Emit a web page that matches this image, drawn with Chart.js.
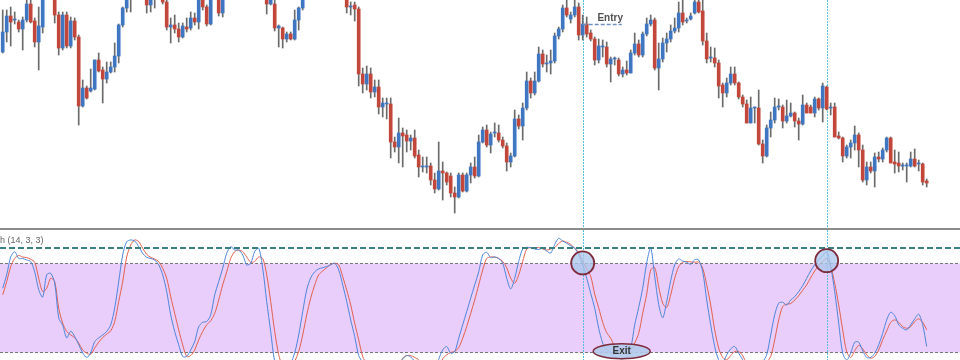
<!DOCTYPE html>
<html>
<head>
<meta charset="utf-8">
<script src="https://cdn.jsdelivr.net/npm/chart.js@4.4.1/dist/chart.umd.min.js"></script>
<style>
  html, body { margin: 0; padding: 0; background: #fff; }
  #wrap { width: 960px; height: 360px; overflow: hidden; }
  canvas { display: block; }
  #divider { height: 2px; background: #8c8c8c; }
</style>
</head>
<body>
<div id="wrap">
  <canvas id="price" width="960" height="228"></canvas>
  <div id="divider"></div>
  <canvas id="stoch" width="960" height="130"></canvas>
</div>
<script>
// candles (price units, higher = up)
const open = [178,198,214,210,208,201,210,226,209,188, 203,240,248,244,215,182,215,184,209,193,
  124,142,139,141,170,160,151,158,163,174, 205,222,235,244,252,258,250,225,232,240,
  246,228,203,205,201,193,203,202,212,208, 232,223,206,235,245,217,236,246,252,249,
  255,262,257,251,254,246,242,226,226,202, 202,191,196,191,210,222,235,243,249,255,
  252,257,262,258,251,248,241,223,225,221, 156,146,156,138,143,123,126,126,88,83,
  97,95,89,92,75,63,63,64,50,41, 59,57,54,37,33,55,39,55,63,54,
  88,100,85,97,97,90,84,68,74,111, 104,122,149,137,149,176,166,167,169,194,
  201,222,211,215,223,195,206,197,191,170, 183,183,166,171,170,156,160,157,177,186,
  175,196,206,210,162,171,187,191,199,202, 217,209,211,217,228,219,189,172,172,167,
  145,137,147,156,147,133,126,107,122,122, 86,74,102,110,123,123,109,114,117,109,
  106,125,123,117,131,122,143,122,123,94, 92,74,83,87,95,80,50,63,59,73,
  71,80,92,68,67,64,64,64,71,66, 66,49];
const high = [220,220,223,218,210,213,232,232,212,223, 245,252,256,248,218,218,218,213,212,195,
  150,144,161,170,177,163,168,168,187,206, 223,240,248,256,262,264,254,240,245,250,
  250,232,212,215,207,207,212,218,217,236, 235,225,238,248,249,242,248,256,260,258,
  266,268,262,258,258,250,246,236,230,205, 203,198,198,220,223,238,246,252,258,262,
  260,266,268,262,256,252,244,228,228,223, 162,164,162,150,150,132,132,132,93,112,
  102,100,95,100,80,73,73,67,57,88, 68,58,57,43,57,57,57,67,73,95,
  103,105,98,107,105,93,87,77,120,115, 127,158,152,158,183,180,175,180,197,203,
  225,230,218,230,227,215,213,200,193,191, 190,188,173,173,172,163,169,180,197,190,
  198,212,215,212,187,192,197,205,212,228, 230,212,217,232,232,232,197,183,182,170,
  147,152,163,163,148,135,130,133,123,140, 90,105,118,132,131,125,130,127,118,112,
  135,127,125,133,132,147,144,127,127,98, 93,85,90,104,97,85,68,68,77,78,
  82,93,93,80,78,67,67,78,81,70, 67,51];
const low = [177,188,184,206,198,180,208,207,183,160, 197,236,242,207,175,180,182,182,190,105,
  123,131,138,140,158,127,147,157,158,167, 203,218,218,240,246,248,217,218,222,236,
  226,200,187,197,188,192,198,200,205,201, 220,204,205,232,214,213,234,242,246,244,
  252,254,248,246,242,238,216,225,199,183, 182,188,190,190,200,220,232,240,244,250,
  246,252,255,248,244,238,217,215,209,144, 137,140,132,133,116,113,111,72,78,67,
  63,78,80,72,53,58,57,45,37,40, 30,45,33,17,32,38,38,47,52,53,
  87,83,77,93,88,82,59,63,73,101, 90,120,132,135,148,163,158,156,167,191,
  198,213,207,213,190,190,193,189,165,167, 173,163,148,165,154,153,155,157,175,173,
  173,194,204,160,140,168,178,188,197,198, 205,207,210,216,217,185,167,168,163,132,
  123,133,145,145,131,123,107,107,107,85, 67,73,93,107,120,102,107,113,103,90,
  105,117,117,113,120,108,120,115,93,91, 68,72,72,80,63,48,45,57,43,68,
  68,78,67,57,58,60,48,63,63,59, 45,43];
const close = [198,214,208,211,201,210,226,208,188,204, 240,248,244,215,182,215,184,209,193,124,
  142,132,142,170,159,151,158,163,174,205, 222,235,244,252,258,250,225,232,240,246,
  228,203,205,201,193,204,201,212,208,233, 223,206,235,245,217,236,246,252,249,255,
  262,257,251,254,246,242,226,232,202,204, 191,196,191,210,222,235,243,249,255,252,
  257,262,258,251,248,241,223,224,221,156, 146,156,138,143,123,127,126,88,83,97,
  94,89,92,74,63,63,64,50,41,59, 57,48,37,33,55,39,55,63,54,88,
  100,85,96,97,90,84,68,74,111,104, 122,149,137,149,176,166,167,169,194,201,
  222,215,215,223,195,206,196,191,170,184, 183,166,171,171,156,160,157,177,186,175,
  196,206,210,162,171,187,191,199,202,217, 208,209,214,228,218,189,171,172,167,144,
  137,147,156,147,133,126,107,122,122,86, 74,102,110,123,123,109,114,117,109,106,
  125,117,117,131,122,144,121,122,93,92, 74,83,87,95,80,50,63,59,73,71,
  80,92,67,66,64,64,64,71,64,66, 48,47];

// Stochastic (14, 3, 3): %K (blue) and %D (red)
const stochK = [63,72,84,87.6,83,83,82,81,74,62, 57,72,73,66.5,43,38,29.5,34,30.4,25,
  19.4,16.3,19.4,27,29.5,31.5,33.8,38.3,49.7,67.4, 85.4,94.3,95.5,94.8,91,86.5,83.8,83,82,78.7,
  72,60.7,45,33.8,24.8,17,17,21.4,27,37, 40,40.5,45,58.5,67.4,76.4,86.5,91,88.7,88.7,
  85.4,78.7,79.8,87.6,89.9,76.4,54,33.8,13.6,8, 5,6,12,19.4,31.5,47.2,61.8,70,74,76,
  76.8,77.5,78.7,79.8,75.3,65.2,54,41.6,30.4,17.6, 13,8,5,4,3,2,3,2,4,8,
  15,17.6,16.6,13.7,10,7,5,4,6,15, 21.4,23.7,19.2,20.3,29.3,38.3,47.2,56.3,65.2,74,
  85.4,87.2,83.6,84,83,79.8,69.7,62.5,69.7,81, 89.4,90.5,90.3,89.4,89,89.9,88,86.7,92.5,96.6,
  94.8,93.2,91.6,89.9,85.4,78.7,69.7,59.6,49.5,36, 26,21.4,19.2,17,15.8,15.4,17,22.6,38.3,50,
  63,80,90,71,52,43,54,68,78.7,82.7, 81.3,80.5,79.1,82.2,82,74,55,38.3,23.7,14.7,
  13,18.1,22.1,23.7,19.2,14.7,10,7,6,8, 13,18.1,31.5,45,52.9,53.5,51.7,55,57.3,60.7,
  64.7,69.7,74.6,78.7,82,85,87.6,77.5,60.7,39.4, 19.2,14.7,19.2,26.6,26.6,20.8,16.3,16.3,19.2,24.8,
  32.6,41.6,46.8,44.5,38.3,36,34.9,38.3,42.3,45.5, 38.3,23.7];
const stochD = [58.5,67.4,77.5,83,85,84,83.6,82.5,80.5,69.7, 60.7,63,69.7,67.4,49.5,39.4,33.8,31.5,29.7,26,
  21.4,19.2,18.5,22.6,26.6,29.7,32,34.2,40.5,54, 67.4,84,92,95.5,94.3,89.9,85.8,83.8,82.7,80.9,
  76.4,69.7,57.3,46,34.9,24.8,17,17.6,21.4,28.2, 33.8,38.3,41,46,55,65.2,74,83,87.6,88.7,
  87.6,84,80.5,81,84,83,72,54,33.8,18.2, 10,6,7,13.6,20.3,31.5,45,56.3,65.2,72,
  74.6,76.8,79.1,79.8,78.7,70.8,61.8,51.7,39.4,28.2, 17,12,9,6,4,3,3,4,6,10,
  15.8,17.6,17.6,16.3,14.7,10,7,5,5,8, 15.4,18.1,19.7,20.3,23,29.3,37.1,46,55,65.2,
  75.3,83,84,84,83,81,76.8,69.7,66.3,72, 81,89.4,90.3,90.3,90.3,89.4,88.7,89.4,90.3,93.2,
  94.8,93.9,92.5,89.9,87.2,81,76,71,59,49.7, 40,33,29.3,23.7,21,19.7,19,21,26,32.6,
  46,59,75.3,76.8,64,52.9,50,58.5,69.7,77.5, 80.5,81,80.7,80.5,80.5,76.4,65.2,51.7,34.9,22.6,
  16.3,14.7,17.6,20.3,20.3,17.6,12,9,7,6, 8,13,17,28.2,41.6,50.6,52.2,52.6,55,58,
  61.6,65.2,70.1,74.6,78.2,81,83,77.5,66.3,51.7, 34.9,20.3,16.3,20.8,24.4,22.1,18.1,15.8,17,21.4,
  28.2,34.2,40,41.6,40,37.1,36,37.1,40.5,42.3, 40,34.9];

// levels and marks
const levels = { upper: 80, lower: 20, signal: 90 };
const signalIdx = [145, 206];      // circles on the stochastic / dotted verticals
const signalLevel = [80, 81.5];
const entryIdx = 145, entryEnd = 154.75, entryPrice = 206;
const exitIdx = 154.75, exitLevel = 20.5;

const BULL = '#3f76c2';
const BEAR = '#c2463a';
// same x mapping for both panels (no bar offset)
const xAxis = { type: 'linear', min: -0.675, max: 239.325, offset: false, display: false };

function vLines(chart) {
  const { ctx, chartArea, scales } = chart;
  ctx.save();
  ctx.strokeStyle = '#58bfe2';
  ctx.lineWidth = 1;
  ctx.setLineDash([2, 1]);
  signalIdx.forEach(i => {
    const x = Math.round(scales.x.getPixelForValue(i)) + 0.5;
    ctx.beginPath();
    ctx.moveTo(x, chartArea.top);
    ctx.lineTo(x, chartArea.bottom);
    ctx.stroke();
  });
  ctx.restore();
}

// ---- price panel ----
const priceMarks = {
  id: 'priceMarks',
  beforeDatasetsDraw(chart) { vLines(chart); },
  afterDatasetsDraw(chart) {
    const { ctx, scales } = chart;
    const x0 = scales.x.getPixelForValue(entryIdx);
    const x1 = scales.x.getPixelForValue(entryEnd);
    const y = Math.round(scales.y.getPixelForValue(entryPrice)) + 0.5;
    ctx.save();
    ctx.strokeStyle = '#6f8fc0';
    ctx.lineWidth = 1.5;
    ctx.setLineDash([4, 2]);
    ctx.beginPath();
    ctx.moveTo(x0, y);
    ctx.lineTo(x1, y);
    ctx.stroke();
    ctx.fillStyle = '#505050';
    ctx.font = 'bold 10px "Liberation Sans"';
    ctx.textAlign = 'center';
    ctx.fillText('Entry', (x0 + x1) / 2 + 8, y - 3.5);
    ctx.restore();
  }
};

new Chart(document.getElementById('price'), {
  type: 'bar',
  data: {
    datasets: [{
      data: close.map((c, i) => ({ x: i, y: [open[i], c] })),
      backgroundColor: close.map((c, i) => c >= open[i] ? BULL : BEAR),
      barThickness: 3,
      minBarLength: 1,
      grouped: false,
      order: 1
    }, {
      data: close.map((c, i) => ({ x: i, y: [low[i], high[i]] })),
      backgroundColor: '#6a6a6a',
      barThickness: 1,
      grouped: false,
      order: 2
    }]
  },
  options: {
    responsive: false,
    animation: false,
    devicePixelRatio: 1,
    layout: { padding: 0 },
    plugins: { legend: { display: false }, tooltip: { enabled: false } },
    scales: {
      x: xAxis,
      y: { min: 2, max: 230, display: false }
    }
  },
  plugins: [priceMarks]
});

// ---- stochastic panel ----
const stochMarks = {
  id: 'stochMarks',
  beforeDatasetsDraw(chart) {
    const { ctx, chartArea, scales } = chart;
    const yUp = Math.round(scales.y.getPixelForValue(levels.upper)) + 0.5;
    const yLo = Math.round(scales.y.getPixelForValue(levels.lower)) + 0.5;
    ctx.save();
    ctx.fillStyle = 'rgb(233, 205, 250)';
    ctx.fillRect(chartArea.left, yUp, chartArea.right - chartArea.left, yLo - yUp);
    ctx.strokeStyle = '#777';
    ctx.lineWidth = 1;
    ctx.setLineDash([3, 2]);
    [yUp, yLo].forEach(y => {
      ctx.beginPath();
      ctx.moveTo(chartArea.left, y);
      ctx.lineTo(chartArea.right, y);
      ctx.stroke();
    });
    ctx.restore();
    vLines(chart);
  },
  afterDatasetsDraw(chart) {
    const { ctx, chartArea, scales } = chart;
    ctx.save();
    // overbought signal line
    const yS = Math.round(scales.y.getPixelForValue(levels.signal));
    ctx.strokeStyle = '#3a7f80';
    ctx.lineWidth = 2;
    ctx.setLineDash([6, 3]);
    ctx.beginPath();
    ctx.moveTo(chartArea.left, yS);
    ctx.lineTo(chartArea.right, yS);
    ctx.stroke();
    ctx.setLineDash([]);

    // crossing circles
    signalIdx.forEach((i, k) => {
      const x = scales.x.getPixelForValue(i);
      const y = scales.y.getPixelForValue(signalLevel[k]);
      ctx.beginPath();
      ctx.arc(x, y, 11.5, 0, Math.PI * 2);
      ctx.fillStyle = 'rgba(170, 198, 235, 0.78)';
      ctx.fill();
      ctx.strokeStyle = '#7d2a3a';
      ctx.lineWidth = 1.8;
      ctx.stroke();
    });

    // exit ellipse
    const ex = scales.x.getPixelForValue(exitIdx);
    const ey = scales.y.getPixelForValue(exitLevel);
    ctx.beginPath();
    ctx.ellipse(ex, ey, 28.5, 7.5, 0, 0, Math.PI * 2);
    ctx.fillStyle = 'rgba(178, 202, 235, 0.9)';
    ctx.fill();
    ctx.strokeStyle = '#7d2a3a';
    ctx.lineWidth = 1.5;
    ctx.stroke();
    ctx.fillStyle = '#333';
    ctx.font = 'bold 10px "Liberation Sans"';
    ctx.textAlign = 'center';
    ctx.textBaseline = 'middle';
    ctx.fillText('Exit', ex, ey + 0.5);

    // indicator name (cut off on the left in the original)
    ctx.fillStyle = '#666';
    ctx.font = '9px "Liberation Sans"';
    ctx.textAlign = 'left';
    ctx.textBaseline = 'alphabetic';
    ctx.fillText('h (14, 3, 3)', 0, chartArea.top + 13);
    ctx.restore();
  }
};

new Chart(document.getElementById('stoch'), {
  type: 'line',
  data: {
    datasets: [{
      data: stochK.map((v, i) => ({ x: i, y: v })),
      borderColor: '#4d86dc',
      borderWidth: 1,
      pointRadius: 0,
      tension: 0.3
    }, {
      data: stochD.map((v, i) => ({ x: i, y: v })),
      borderColor: '#e2604e',
      borderWidth: 1,
      pointRadius: 0,
      tension: 0.3
    }]
  },
  options: {
    responsive: false,
    animation: false,
    devicePixelRatio: 1,
    layout: { padding: 0 },
    plugins: { legend: { display: false }, tooltip: { enabled: false } },
    scales: {
      x: xAxis,
      y: { min: 14.6, max: 102.2, display: false }
    }
  },
  plugins: [stochMarks]
});
</script>
</body>
</html>
